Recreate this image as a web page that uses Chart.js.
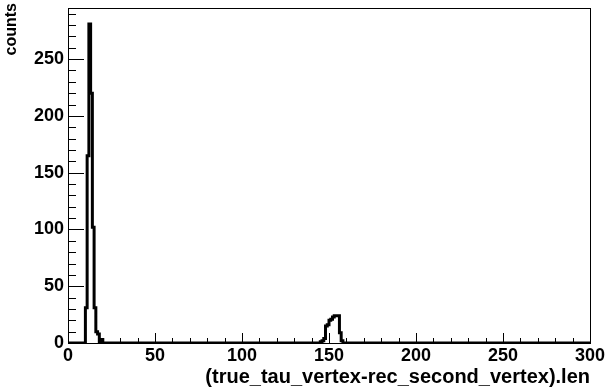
<!DOCTYPE html>
<html>
<head>
<meta charset="utf-8">
<script src="https://cdn.jsdelivr.net/npm/chart.js@4/dist/chart.umd.min.js"></script>
<style>
  html, body { margin: 0; padding: 0; background: #fff; }
  #histo { display: block; }
</style>
</head>
<body>
<canvas id="histo" width="608" height="387"></canvas>
<script>
// histogram: 300 bins of width 1 between 0 and 300
const xMin = 0;
const xMax = 300;
const yMax = 295;
const binWidth = 1;

// bins with entries (first bin low edge + counts)
const peak1Start = 10;
const peak1Counts = [31, 165, 281, 220, 102, 31, 10, 8, 1, 3];
const peak2Start = 145;
const peak2Counts = [1, 2, 4, 15, 16, 20, 21, 23, 24, 24, 24, 9, 2];

const xTickLabels = [0, 50, 100, 150, 200, 250, 300];
const yTickLabels = [0, 50, 100, 150, 200, 250];

const xTitle = "(true_tau_vertex-rec_second_vertex).len";
const yTitle = "counts";

const fontFamily = "'Liberation Sans', Arial, Helvetica, sans-serif";

// fill the bins
const nBins = (xMax - xMin) / binWidth;
const counts = new Array(nBins).fill(0);
peak1Counts.forEach((c, i) => { counts[peak1Start - xMin + i] = c; });
peak2Counts.forEach((c, i) => { counts[peak2Start - xMin + i] = c; });

// one point per bin low edge, plus closing edge
const puntos = counts.map((c, i) => ({ x: xMin + i * binWidth, y: c }));
puntos.push({ x: xMax, y: 0 });

// ROOT-like frame, inward ticks, labels and axis titles
const marcoPlugin = {
  id: 'marco',
  afterDraw(chart) {
    const { ctx, chartArea: a } = chart;
    const sx = chart.scales.x, sy = chart.scales.y;
    ctx.save();
    ctx.strokeStyle = '#000';
    ctx.lineWidth = 1;
    ctx.strokeRect(Math.round(a.left) + 0.5, Math.round(a.top) + 0.5,
      Math.round(a.right - a.left), Math.round(a.bottom - a.top));

    ctx.beginPath();
    for (let v = xMin; v <= xMax; v += 10) {
      const px = Math.round(sx.getPixelForValue(v)) + 0.5;
      const len = v % 50 === 0 ? 10 : 5;
      ctx.moveTo(px, a.bottom);
      ctx.lineTo(px, a.bottom - len);
    }
    for (let v = 0; v <= yMax; v += 10) {
      const py = Math.round(sy.getPixelForValue(v)) + 0.5;
      const len = v % 50 === 0 ? 16 : 8;
      ctx.moveTo(a.left, py);
      ctx.lineTo(a.left + len, py);
    }
    ctx.stroke();

    ctx.fillStyle = '#000';
    ctx.font = 'bold 18px ' + fontFamily;
    ctx.textAlign = 'center';
    ctx.textBaseline = 'top';
    xTickLabels.forEach(v => {
      ctx.fillText(String(v), sx.getPixelForValue(v), a.bottom + 4);
    });
    ctx.textAlign = 'right';
    ctx.textBaseline = 'middle';
    yTickLabels.forEach(v => {
      ctx.fillText(String(v), a.left - 4, sy.getPixelForValue(v));
    });

    ctx.font = 'bold 20px ' + fontFamily;
    ctx.textAlign = 'right';
    ctx.textBaseline = 'alphabetic';
    ctx.fillText(xTitle, a.right, 383);

    ctx.font = 'bold 16px ' + fontFamily;
    ctx.translate(16, 3);
    ctx.rotate(-Math.PI / 2);
    ctx.fillText(yTitle, 0, 0);
    ctx.restore();
  }
};

new Chart(document.getElementById('histo'), {
  type: 'line',
  data: {
    datasets: [{
      data: puntos,
      stepped: 'before',
      borderColor: '#000',
      borderWidth: 3,
      pointRadius: 0,
      fill: false
    }]
  },
  options: {
    responsive: false,
    animation: false,
    layout: { padding: { left: 68, top: 8, right: 18, bottom: 44 } },
    plugins: { legend: { display: false }, tooltip: { enabled: false } },
    scales: {
      x: { type: 'linear', min: xMin, max: xMax, display: false },
      y: { min: 0, max: yMax, display: false }
    }
  },
  plugins: [marcoPlugin]
});
</script>
</body>
</html>
